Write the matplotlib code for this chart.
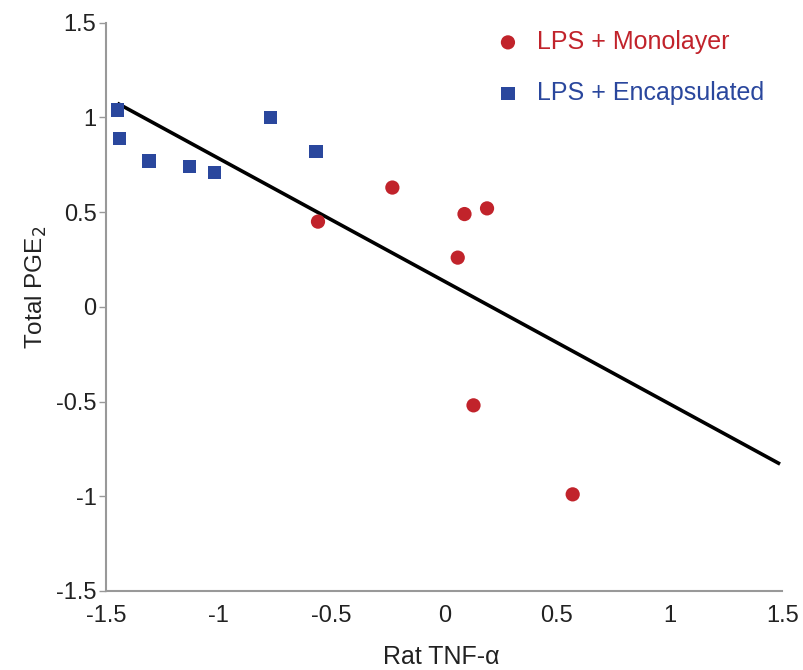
import numpy as np
import matplotlib.pyplot as plt

plt.rcParams['font.family'] = ['Liberation Sans', 'DejaVu Sans']

# LPS + Monolayer (red circles)
mono_x = [-0.56, -0.23, 0.09, 0.19, 0.06, 0.13, 0.57]
mono_y = [0.45, 0.63, 0.49, 0.52, 0.26, -0.52, -0.99]

# LPS + Encapsulated (blue squares)
enc_x = [-1.45, -1.44, -1.31, -1.13, -1.02, -0.77, -0.57]
enc_y = [1.04, 0.89, 0.77, 0.74, 0.71, 1.00, 0.82]

# regression line end points
fit_x = [-1.45, 1.49]
fit_y = [1.075, -0.83]

ticks = [-1.5, -1, -0.5, 0, 0.5, 1, 1.5]
tick_labels = ['-1.5', '-1', '-0.5', '0', '0.5', '1', '1.5']

red = '#c1232b'
blue = '#2a479d'

fig = plt.figure(figsize=(8.04, 6.7), dpi=100)
ax = fig.add_axes([0.132, 0.118, 0.841, 0.848])

ax.plot(fit_x, fit_y, color='black', lw=2.6, solid_capstyle='butt', zorder=2)
ax.scatter(mono_x, mono_y, s=105, marker='o', color=red, edgecolors='none',
           label='LPS + Monolayer', zorder=3)
ax.scatter(enc_x, enc_y, s=95, marker='s', color=blue, edgecolors='none',
           label='LPS + Encapsulated', zorder=3)

ax.set_xlim(-1.5, 1.5)
ax.set_ylim(-1.5, 1.5)
ax.set_xticks(ticks)
ax.set_yticks(ticks)
ax.set_xticklabels(tick_labels)
ax.set_yticklabels(tick_labels)

for s in ['top', 'right']:
    ax.spines[s].set_visible(False)
for s in ['left', 'bottom']:
    ax.spines[s].set_color('#999999')
    ax.spines[s].set_linewidth(1.5)
ax.tick_params(axis='x', length=0, pad=10, labelsize=17, colors='#222222')
ax.tick_params(axis='y', length=5, width=1, color='#999999', pad=2,
               labelsize=17, labelcolor='#222222')

ax.set_xlabel('Rat TNF-\u03b1', fontsize=18, color='#222222')
ax.set_ylabel('Total PGE$_2$', fontsize=17.5, color='#222222')
ax.xaxis.set_label_coords(0.495, -0.095)
ax.yaxis.set_label_coords(-0.085, 0.535)

leg = ax.legend(loc='upper left', bbox_to_anchor=(0.561, 1.005), frameon=False,
                fontsize=18, handlelength=1.0, handletextpad=0.66,
                labelspacing=1.08, borderaxespad=0, scatterpoints=1)
for txt, c in zip(leg.get_texts(), [red, blue]):
    txt.set_color(c)

fig.savefig('out.png', dpi=100)
